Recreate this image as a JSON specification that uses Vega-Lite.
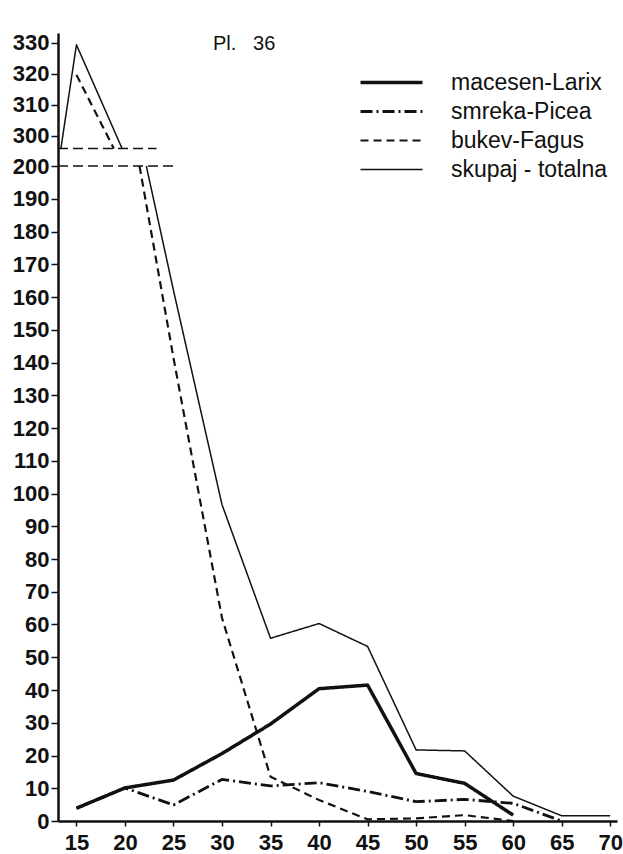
{
  "$schema": "https://vega.github.io/schema/vega-lite/v6.json",
  "width": 559,
  "height": 788,
  "autosize": {"type": "none"},
  "padding": {"left": 58, "top": 33, "right": 6, "bottom": 33},
  "background": "white",
  "config": {
    "view": {"stroke": null},
    "font": "Liberation Sans",
    "axis": {
      "grid": false,
      "title": null,
      "labelFont": "Liberation Sans",
      "labelFontSize": 22,
      "labelFontWeight": "bold",
      "labelColor": "#111",
      "domainColor": "#111",
      "domainWidth": 2.5,
      "tickColor": "#111",
      "tickWidth": 1.5,
      "labelFlush": false,
      "labelOverlap": false,
      "labelBound": false
    }
  },
  "title": {
    "text": "Pl.\u00a0\u00a0 36",
    "anchor": "start",
    "frame": "group",
    "dx": 155,
    "dy": 26,
    "fontSize": 20,
    "fontWeight": "normal",
    "font": "Liberation Sans",
    "color": "#111"
  },
  "layer": [
    {
      "data": {
        "values": [
          {"x1": 13.1, "x2": 23.25, "y": 296},
          {"x1": 13.1, "x2": 25.0, "y": 200}
        ]
      },
      "mark": {"type": "rule", "strokeDash": [10, 5], "strokeWidth": 1.5, "color": "#111"},
      "encoding": {
        "x": {"field": "x1", "type": "quantitative", "scale": {"domain": [13.1, 70.7], "nice": false, "zero": false}},
        "x2": {"field": "x2"},
        "y": {"field": "y", "type": "quantitative", "scale": {"domain": [0, 200, 296, 333.2], "range": [788, 133, 115.4, 0], "nice": false, "zero": false}}
      }
    },
    {
      "data": {
        "values": [
          {"series": "skupaj - totalna", "part": "upper", "d": 13.4, "n": 296},
          {"series": "skupaj - totalna", "part": "upper", "d": 15, "n": 329.4},
          {"series": "skupaj - totalna", "part": "upper", "d": 19.7, "n": 296},
          {"series": "skupaj - totalna", "part": "lower", "d": 22.2, "n": 200},
          {"series": "skupaj - totalna", "part": "lower", "d": 25, "n": 162},
          {"series": "skupaj - totalna", "part": "lower", "d": 30, "n": 96.6},
          {"series": "skupaj - totalna", "part": "lower", "d": 35, "n": 55.8},
          {"series": "skupaj - totalna", "part": "lower", "d": 40, "n": 60.3},
          {"series": "skupaj - totalna", "part": "lower", "d": 45, "n": 53.3},
          {"series": "skupaj - totalna", "part": "lower", "d": 50, "n": 21.7},
          {"series": "skupaj - totalna", "part": "lower", "d": 55, "n": 21.4},
          {"series": "skupaj - totalna", "part": "lower", "d": 60, "n": 7.6},
          {"series": "skupaj - totalna", "part": "lower", "d": 65, "n": 1.6},
          {"series": "skupaj - totalna", "part": "lower", "d": 70, "n": 1.6},
          {"series": "bukev-Fagus", "part": "upper", "d": 15, "n": 319.7},
          {"series": "bukev-Fagus", "part": "upper", "d": 18.85, "n": 296},
          {"series": "bukev-Fagus", "part": "lower", "d": 21.5, "n": 200},
          {"series": "bukev-Fagus", "part": "lower", "d": 25, "n": 141.4},
          {"series": "bukev-Fagus", "part": "lower", "d": 30, "n": 62},
          {"series": "bukev-Fagus", "part": "lower", "d": 35, "n": 13.5},
          {"series": "bukev-Fagus", "part": "lower", "d": 40, "n": 6.4},
          {"series": "bukev-Fagus", "part": "lower", "d": 45, "n": 0.5},
          {"series": "bukev-Fagus", "part": "lower", "d": 50, "n": 0.8},
          {"series": "bukev-Fagus", "part": "lower", "d": 55, "n": 1.8},
          {"series": "bukev-Fagus", "part": "lower", "d": 60, "n": 0},
          {"series": "macesen-Larix", "part": "lower", "d": 15, "n": 3.9},
          {"series": "macesen-Larix", "part": "lower", "d": 20, "n": 10.1},
          {"series": "macesen-Larix", "part": "lower", "d": 25, "n": 12.5},
          {"series": "macesen-Larix", "part": "lower", "d": 30, "n": 20.6},
          {"series": "macesen-Larix", "part": "lower", "d": 35, "n": 29.6},
          {"series": "macesen-Larix", "part": "lower", "d": 40, "n": 40.4},
          {"series": "macesen-Larix", "part": "lower", "d": 45, "n": 41.5},
          {"series": "macesen-Larix", "part": "lower", "d": 50, "n": 14.5},
          {"series": "macesen-Larix", "part": "lower", "d": 55, "n": 11.5},
          {"series": "macesen-Larix", "part": "lower", "d": 60, "n": 1.8},
          {"series": "smreka-Picea", "part": "lower", "d": 15, "n": 3.9},
          {"series": "smreka-Picea", "part": "lower", "d": 20, "n": 10.1},
          {"series": "smreka-Picea", "part": "lower", "d": 25, "n": 4.9},
          {"series": "smreka-Picea", "part": "lower", "d": 30, "n": 12.7},
          {"series": "smreka-Picea", "part": "lower", "d": 35, "n": 10.7},
          {"series": "smreka-Picea", "part": "lower", "d": 40, "n": 11.7},
          {"series": "smreka-Picea", "part": "lower", "d": 45, "n": 9.0},
          {"series": "smreka-Picea", "part": "lower", "d": 50, "n": 5.9},
          {"series": "smreka-Picea", "part": "lower", "d": 55, "n": 6.6},
          {"series": "smreka-Picea", "part": "lower", "d": 60, "n": 5.4},
          {"series": "smreka-Picea", "part": "lower", "d": 65, "n": 0}
        ]
      },
      "mark": {"type": "line", "color": "#111", "strokeJoin": "round"},
      "encoding": {
        "x": {
          "field": "d", "type": "quantitative",
          "scale": {"domain": [13.1, 70.7], "nice": false, "zero": false},
          "axis": {"values": [15, 20, 25, 30, 35, 40, 45, 50, 55, 60, 65, 70], "tickCount": 20, "tickSize": 5, "labelPadding": 6, "labelOverlap": false}
        },
        "y": {
          "field": "n", "type": "quantitative",
          "scale": {"domain": [0, 200, 296, 333.2], "range": [788, 133, 115.4, 0], "nice": false, "zero": false},
          "axis": {"values": [0, 10, 20, 30, 40, 50, 60, 70, 80, 90, 100, 110, 120, 130, 140, 150, 160, 170, 180, 190, 200, 300, 310, 320, 330], "tickCount": 40, "tickSize": 7, "labelPadding": 2, "labelOverlap": false}
        },
        "detail": {"field": "part", "type": "nominal"},
        "strokeDash": {
          "field": "series", "type": "nominal",
          "scale": {
            "domain": ["macesen-Larix", "smreka-Picea", "bukev-Fagus", "skupaj - totalna"],
            "range": [[1, 0], [12, 4, 2, 4], [8, 5], [1, 0]]
          },
          "legend": {
            "orient": "none", "legendX": 322, "legendY": 38, "title": null,
            "symbolType": "M-8,0H8", "symbolSize": 60, "symbolStrokeColor": "#111",
            "labelFontSize": 23, "labelFont": "Liberation Sans", "labelColor": "#111",
            "labelOffset": 48, "rowPadding": 5, "labelLimit": 300
          }
        },
        "strokeWidth": {
          "field": "series", "type": "nominal",
          "scale": {
            "domain": ["macesen-Larix", "smreka-Picea", "bukev-Fagus", "skupaj - totalna"],
            "range": [3.5, 1.5, 1.8, 2.2]
          },
          "legend": {
            "orient": "none", "legendX": 322, "legendY": 38, "title": null,
            "symbolType": "M-8,0H8", "symbolSize": 60, "symbolStrokeColor": "#111",
            "labelFontSize": 23, "labelFont": "Liberation Sans", "labelColor": "#111",
            "labelOffset": 48, "rowPadding": 5, "labelLimit": 300
          }
        }
      }
    }
  ]
}
